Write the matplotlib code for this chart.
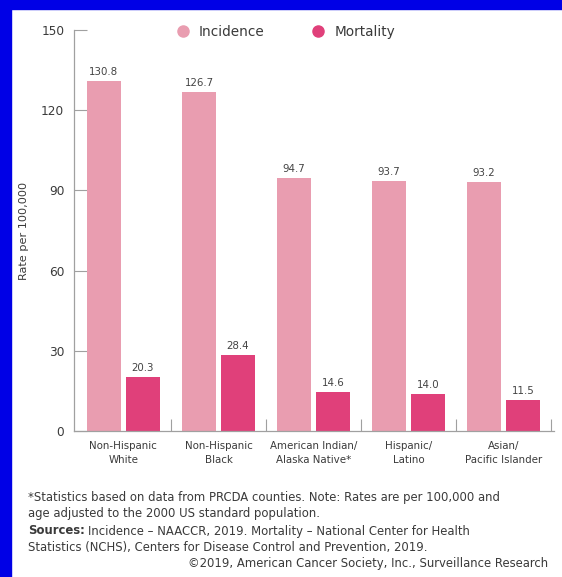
import matplotlib
matplotlib.use("Agg")
import matplotlib.pyplot as plt
from matplotlib.lines import Line2D
from matplotlib.patches import Rectangle
import numpy as np

plt.rcParams['font.family'] = ['DejaVu Sans']

categories = ["Non-Hispanic\nWhite", "Non-Hispanic\nBlack", "American Indian/\nAlaska Native*",
              "Hispanic/\nLatino", "Asian/\nPacific Islander"]
series_names = ["Incidence", "Mortality"]
incidence = [130.8, 126.7, 94.7, 93.7, 93.2]
mortality = [20.3, 28.4, 14.6, 14.0, 11.5]
yticks = [0, 30, 60, 90, 120, 150]

inc_color = '#E99DB0'
mort_color = '#E0407A'
axis_color = '#A0A0A0'
text_color = '#3A3A3A'

W, H = 562, 577
fig = plt.figure(figsize=(W/100, H/100), dpi=100)
fig.patch.set_facecolor('white')
renderer = fig.canvas.get_renderer()
SHRINK = 0.92


def fit_size(text, target_px, weight='normal'):
    """font size (pt) so that text is about target_px wide"""
    t = fig.text(0, 0, text, fontsize=10, fontweight=weight)
    w = t.get_window_extent(renderer).width
    t.remove()
    return 10 * target_px / w * SHRINK


# blue frame (top and left)
fig.patches.append(Rectangle((0, 1 - 9/H), 1, 9/H, transform=fig.transFigure, color='#0000E6', zorder=0))
fig.patches.append(Rectangle((0, 0), 11/W, 1, transform=fig.transFigure, color='#0000E6', zorder=0))

ax = fig.add_axes([74/W, 1 - 431/H, 480/W, 401/H])
x = np.arange(len(categories))
bw = 0.355
off = 0.205
b1 = ax.bar(x - off, incidence, bw, color=inc_color, zorder=2)
b2 = ax.bar(x + off, mortality, bw, color=mort_color, zorder=2)

val_fs = fit_size("130.8", 32)
for bars, vals in ((b1, incidence), (b2, mortality)):
    for rect, v in zip(bars, vals):
        ax.annotate(f"{v:.1f}", (rect.get_x() + rect.get_width()/2, v), xytext=(0, 4),
                    textcoords='offset pixels', ha='center', va='bottom',
                    fontsize=val_fs, color='#444444')

ax.set_xlim(-0.52, 4.53)
ax.set_ylim(0, 150)
ax.set_yticks(yticks)
ytick_fs = fit_size("150", 25)
ax.set_yticklabels([str(t) for t in yticks], fontsize=ytick_fs, color=text_color)
ax.tick_params(axis='y', direction='in', length=9, width=0.8, color=axis_color, pad=7)

ax.set_xticks(x)
xt_fs = fit_size("Non-Hispanic", 74)
ax.set_xticklabels(categories, fontsize=xt_fs, color=text_color, linespacing=1.55)
ax.tick_params(axis='x', length=0, pad=7)
ax.set_xticks(np.arange(0.5, len(categories), 1.0), minor=True)
ax.tick_params(axis='x', which='minor', direction='in', length=9, width=0.8, color=axis_color)

for s in ['top', 'right']:
    ax.spines[s].set_visible(False)
for s in ['left', 'bottom']:
    ax.spines[s].set_color(axis_color)
    ax.spines[s].set_linewidth(0.9)

ylab_fs = fit_size("Rate per 100,000", 106)
ax.set_ylabel("Rate per 100,000", fontsize=ylab_fs, color=text_color, labelpad=9)

# legend
leg_fs = fit_size("Incidence", 71)
fpx = leg_fs * 100 / 72
tw = 71 * SHRINK
hl = 1.0
marker_c = 183
text_start = 199
marker2 = 318
text_end = text_start + tw
handles = [Line2D([], [], marker='o', linestyle='none', markersize=8, color=inc_color),
           Line2D([], [], marker='o', linestyle='none', markersize=8, color=mort_color)]
fig.legend(handles, series_names, loc='center left',
           bbox_to_anchor=((marker_c - hl * fpx / 2) / W, 1 - 32/H),
           ncol=2, frameon=False, fontsize=leg_fs,
           handlelength=hl, handletextpad=(text_start - marker_c - hl * fpx / 2) / fpx,
           columnspacing=(marker2 - text_end - hl * fpx / 2) / fpx,
           borderaxespad=0, borderpad=0, labelcolor=text_color)

# footnotes
line1 = "*Statistics based on data from PRCDA counties. Note: Rates are per 100,000 and"
fs = fit_size(line1, 512)
fig.text(28/W, 1 - 497/H, line1, fontsize=fs, color=text_color, va='center', ha='left')
fig.text(28/W, 1 - 513/H, "age adjusted to the 2000 US standard population.",
         fontsize=fs, color=text_color, va='center', ha='left')
t = fig.text(28/W, 1 - 531/H, "Sources:", fontsize=fs, color=text_color, va='center', ha='left',
             fontweight='bold')
bb = t.get_window_extent(renderer)
fig.text(bb.x1/W + 3/W, 1 - 531/H, "Incidence – NAACCR, 2019. Mortality – National Center for Health",
         fontsize=fs, color=text_color, va='center', ha='left')
fig.text(28/W, 1 - 547/H, "Statistics (NCHS), Centers for Disease Control and Prevention, 2019.",
         fontsize=fs, color=text_color, va='center', ha='left')
fig.text(548/W, 1 - 564/H, "©2019, American Cancer Society, Inc., Surveillance Research",
         fontsize=fs, color=text_color, va='center', ha='right')

fig.savefig("out.png", dpi=100)
